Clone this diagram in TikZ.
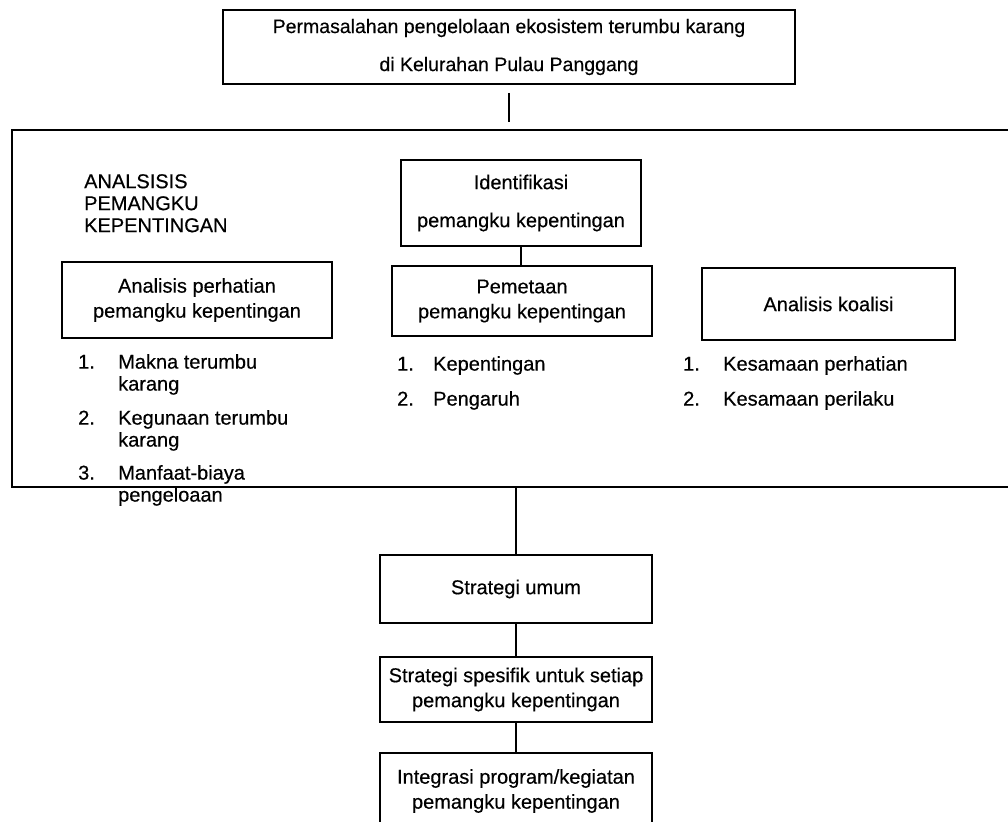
\documentclass[tikz,border=0pt]{standalone}
\usepackage{fontspec}
\setmainfont[FakeBold=0.4]{Liberation Sans}
\usetikzlibrary{calc}
\newcommand{\bigtxt}{\fontsize{19.5}{38}\selectfont}
\newcommand{\smtxt}{\fontsize{20}{25}\selectfont}
\newcommand{\lsttxt}{\fontsize{20}{22}\selectfont}
\begin{document}
\begin{tikzpicture}[x=1pt,y=-1pt,
  box/.style={draw, line width=1.8pt, inner sep=0pt, align=center},
  conn/.style={line width=1.5pt},
  lst/.style={anchor=north west, inner sep=0pt, font=\lsttxt}]
\useasboundingbox (0,0) rectangle (1008,821);
% top box
\node[box, minimum width=572pt, minimum height=74pt, font=\bigtxt] (top) at (509,47)
  {Permasalahan pengelolaan ekosistem terumbu karang\\di Kelurahan Pulau Panggang};
% big frame (open on the right)
\coordinate (bbtl) at (12,130);
\coordinate (bbbl) at (12,487);
\draw[line width=1.8pt] (1015,130) -- (bbtl) -- (bbbl) -- (1015,487);
\draw[conn, shorten <=8pt, shorten >=8pt] (top.south) -- (top.south |- bbtl);
% heading
\node[anchor=north west, inner sep=0pt, align=left, font=\fontsize{20}{22}\selectfont] (head) at (84,174)
  {ANALSISIS\\PEMANGKU\\KEPENTINGAN};
% identification
\node[box, minimum width=240pt, minimum height=86pt, font=\smtxt, align=center] (ident) at (521,203)
  {Identifikasi\\[13pt]pemangku kepentingan};
\node[box, minimum width=270pt, minimum height=76pt, font=\smtxt] (perh) at (197,300)
  {Analisis perhatian\\pemangku kepentingan};
\node[box, minimum width=260pt, minimum height=70pt, font=\smtxt] (pem) at (522,301)
  {Pemetaan\\pemangku kepentingan};
\node[box, minimum width=253pt, minimum height=72pt, font=\smtxt] (koal) at (828.5,304)
  {Analisis koalisi};
\draw[conn] (ident.south) -- (ident.south |- pem.north);
\draw[conn] ($(perh.east)+(0,18)$) -- ($(perh.east)+(0,18)$ -| pem.west);
\draw[conn] ($(pem.east)+(0,17)$) -- ($(pem.east)+(0,17)$ -| koal.west);
% lists
\node[lst] (l1) at (78,353) {\begin{tabular}{@{}p{40pt}@{}l@{}}
1. & Makna terumbu\\ & karang\\[12pt]
2. & Kegunaan terumbu\\ & karang\\[11pt]
3. & Manfaat-biaya\\ & pengeloaan
\end{tabular}};
\node[lst] (l2) at (397,355) {\begin{tabular}{@{}p{36pt}@{}l@{}}
1. & Kepentingan\\[13pt]
2. & Pengaruh
\end{tabular}};
\node[lst] (l3) at (683,355) {\begin{tabular}{@{}p{40pt}@{}l@{}}
1. & Kesamaan perhatian\\[13pt]
2. & Kesamaan perilaku
\end{tabular}};
% strategies
\node[box, minimum width=272pt, minimum height=68pt, font=\smtxt] (umum) at (516,589)
  {Strategi umum};
\node[box, minimum width=272pt, minimum height=65pt, font=\smtxt] (spes) at (516,689.5)
  {Strategi spesifik untuk setiap\\pemangku kepentingan};
\node[box, minimum width=272pt, minimum height=76pt, font=\smtxt] (integ) at (516,791)
  {Integrasi program/kegiatan\\pemangku kepentingan};
\draw[conn] (umum.north |- bbbl) -- (umum.north);
\draw[conn] (umum.south) -- (spes.north);
\draw[conn] (spes.south) -- (integ.north);
\end{tikzpicture}
\end{document}
